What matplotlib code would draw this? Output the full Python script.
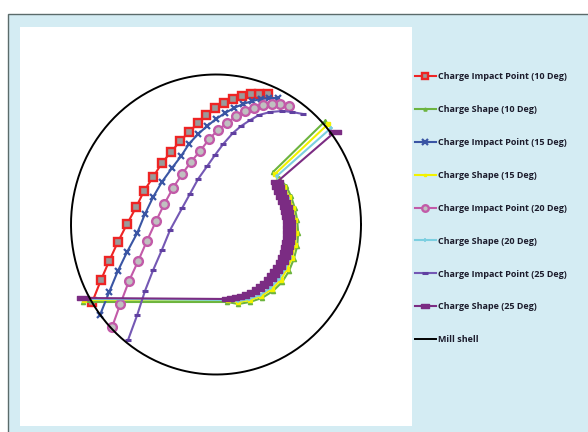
import numpy as np
import matplotlib.pyplot as plt
from matplotlib.patches import Rectangle
from matplotlib.path import Path

# mill geometry (mm)
MILL_RADIUS = 300

# charge impact points (trajectory of the outermost charge layer), x / y in mm
impact_10_x = [108, 89, 73, 54, 35, 17, -2, -20, -37, -56, -74, -93, -112, -130, -149, -165, -184, -203, -221, -238, -256]
impact_10_y = [261, 261, 261, 257, 251, 243, 233, 219, 203, 185, 167, 145, 123, 95, 67, 35, 1, -35, -73, -111, -155]

impact_15_x = [128, 110, 93, 75, 56, 37, 19, 0, -18, -37, -56, -72, -91, -112, -130, -147, -163, -184, -203, -221, -240]
impact_15_y = [253, 253, 251, 247, 241, 233, 223, 211, 197, 181, 161, 137, 113, 85, 55, 21, -17, -55, -93, -135, -181]

impact_20_x = [151, 133, 116, 97, 79, 60, 42, 23, 4, -14, -33, -52, -70, -89, -107, -124, -143, -161, -180, -198, -215]
impact_20_y = [237, 241, 241, 239, 233, 227, 217, 203, 189, 171, 147, 125, 101, 73, 41, 7, -33, -73, -113, -159, -205]

impact_25_x = [180, 157, 137, 112, 89, 71, 52, 35, 15, -2, -18, -37, -54, -70, -95, -112, -130, -147, -163, -182]
impact_25_y = [221, 225, 227, 225, 219, 209, 197, 183, 161, 139, 117, 91, 61, 33, -11, -51, -91, -133, -181, -231]

# charge shapes: toe line, free surface arc, shoulder line
shape_10_x = [-275, 23, 46, 70, 95, 118, 137, 151, 161, 168, 170, 168, 163, 155, 145, 130, 118, 226]
shape_10_y = [-155, -155, -159, -155, -147, -133, -115, -93, -69, -43, -17, 9, 33, 57, 77, 93, 105, 207]

shape_15_x = [-273, 25, 46, 70, 93, 116, 134, 147, 157, 163, 166, 163, 159, 151, 141, 128, 122, 232]
shape_15_y = [-151, -151, -155, -151, -143, -129, -111, -89, -67, -41, -17, 9, 33, 55, 75, 89, 101, 201]

shape_20_x = [-273, 25, 46, 68, 91, 112, 130, 143, 153, 159, 161, 159, 155, 149, 139, 128, 126, 238]
shape_20_y = [-149, -151, -153, -149, -141, -127, -109, -89, -67, -41, -17, 7, 31, 53, 73, 87, 97, 193]

shape_25_x = [-275, 25, 35, 46, 56, 66, 77, 87, 95, 103, 112, 118, 124, 130, 137, 141, 145, 147,
              149, 151, 151, 151, 151, 149, 147, 145, 141, 137, 132, 128, 126, 246]
shape_25_y = [-147, -149, -147, -145, -143, -139, -135, -129, -123, -117, -109, -101, -93, -85, -75, -65, -55, -45,
              -35, -25, -15, -5, 5, 15, 25, 35, 45, 55, 65, 75, 85, 185]

PANEL = "#d4ecf3"
TEXT = "#1c1c2c"

fig = plt.figure(figsize=(5.88, 4.32), dpi=100)
fig.patch.set_facecolor("white")
fig.patches.append(Rectangle((8 / 588, -0.2), 1.2, 1.2 - 14 / 432, transform=fig.transFigure,
                             facecolor=PANEL, edgecolor="#5b6b6b", linewidth=1.0, zorder=-5))

ax = fig.add_axes([20 / 588, 6 / 432, 392 / 588, 399 / 432])
ax.set_zorder(1)
ax.set_facecolor("white")
for s in ax.spines.values():
    s.set_visible(False)
ax.set_xticks([])
ax.set_yticks([])
ax.set_xlim(-405.5, 405.5)
ax.set_ylim(-403, 395)

dash = Path([(-1, -0.42), (1, -0.42), (1, 0.42), (-1, 0.42), (-1, -0.42)],
            [Path.MOVETO, Path.LINETO, Path.LINETO, Path.LINETO, Path.CLOSEPOLY])

ax.plot(impact_10_x, impact_10_y, color="#ee2424", lw=1.5, marker="s", ms=6.3,
        mfc="#9a9a9a", mec="#ee2424", mew=1.7, label="Charge Impact Point (10 Deg)")
ax.plot(shape_10_x, shape_10_y, color="#6cb43f", lw=1.5, marker="^", ms=3,
        label="Charge Shape (10 Deg)")
ax.plot(impact_15_x, impact_15_y, color="#3a55a4", lw=1.5, marker="x", ms=5, mew=1.6,
        label="Charge Impact Point (15 Deg)")
ax.plot(shape_15_x, shape_15_y, color="#f2f200", lw=1.5, marker="s", ms=2.5,
        label="Charge Shape (15 Deg)")
ax.plot(impact_20_x, impact_20_y, color="#c25aa8", lw=1.5, marker="o", ms=6.3,
        mfc="#c0c0c0", mec="#c25aa8", mew=1.7, label="Charge Impact Point (20 Deg)")
ax.plot(shape_20_x, shape_20_y, color="#7ccfe0", lw=1.5, marker="+", ms=3.5, mew=1.2,
        label="Charge Shape (20 Deg)")
ax.plot(impact_25_x, impact_25_y, color="#7458b4", lw=1.5, marker="_", ms=5, mew=2.2,
        mec="#6040a0", label="Charge Impact Point (25 Deg)")
ax.plot(shape_25_x, shape_25_y, color="#7b2c83", lw=1.5, marker=dash, ms=8,
        mec="#7b2c83", mfc="#7b2c83", label="Charge Shape (25 Deg)")

theta = np.linspace(0, 2 * np.pi, 400)
ax.plot(MILL_RADIUS * np.cos(theta), MILL_RADIUS * np.sin(theta), color="black", lw=1.4,
        label="Mill shell")

handles, labels = ax.get_legend_handles_labels()
leg = fig.legend(handles, labels, loc="upper left", bbox_to_anchor=(415 / 588, 1 - 72 / 432),
                 frameon=False, borderpad=0, borderaxespad=0, handlelength=2.3,
                 handletextpad=0.25, labelspacing=2.67, markerscale=0.75,
                 prop={"family": "Open Sans", "weight": "bold", "size": 6.45})
for t in leg.get_texts():
    t.set_color(TEXT)

fig.savefig("out.png", dpi=100)
